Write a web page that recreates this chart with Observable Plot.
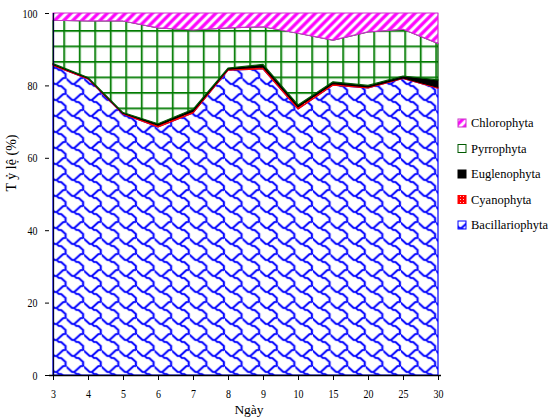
<!DOCTYPE html>
<html><head><meta charset="utf-8">
<script src="https://cdn.jsdelivr.net/npm/d3@7"></script>
<script src="https://cdn.jsdelivr.net/npm/@observablehq/plot@0.6"></script>
<style>body{margin:0;background:#fff;} svg text{font-family:"Liberation Serif",serif;}</style>
</head><body><div id="chart"></div>
<script>
const days = [3, 4, 5, 6, 7, 8, 9, 10, 15, 20, 25, 30];
const bacillariophyta = [85.5, 81.8, 72.1, 68.5, 72.4, 84.2, 84.6, 73.5, 80.1, 79.3, 81.9, 79.2];
const cyanophyta = [0.3, 0.2, 0.2, 0.5, 0.5, 0.3, 0.5, 0.6, 0.4, 0.3, 0.2, 0.3];
const euglenophyta = [0.2, 0.2, 0.2, 0.4, 0.5, 0.3, 0.7, 0.5, 0.5, 0.4, 0.5, 2.0];
const pyrrophyta = [12.0, 15.6, 25.3, 26.5, 21.9, 11.1, 10.4, 19.8, 11.5, 14.8, 12.9, 10.1];
const chlorophyta = [2.0, 2.2, 2.2, 4.1, 4.7, 4.1, 3.8, 5.6, 7.5, 5.2, 4.5, 8.4];
const yTicks = [0, 20, 40, 60, 80, 100];
const seriesNames = ["Bacillariophyta", "Cyanophyta", "Euglenophyta", "Pyrrophyta", "Chlorophyta"];
const seriesValues = [bacillariophyta, cyanophyta, euglenophyta, pyrrophyta, chlorophyta];
const legendOrder = ["Chlorophyta", "Pyrrophyta", "Euglenophyta", "Cyanophyta", "Bacillariophyta"];

const fills = {
  Bacillariophyta: "url(#pBac)", Cyanophyta: "url(#pCya)", Euglenophyta: "#000000",
  Pyrrophyta: "url(#pPyr)", Chlorophyta: "url(#pChl)"
};
const strokes = {
  Bacillariophyta: "#0000ff", Cyanophyta: "#ff0000", Euglenophyta: "#000000",
  Pyrrophyta: "#005a00", Chlorophyta: "#cc33cc"
};

// stacked table
const stacked = {};
const base = days.map(() => 0);
seriesNames.forEach((name, k) => {
  stacked[name] = days.map((d, i) => {
    const lo = base[i];
    const hi = lo + seriesValues[k][i];
    base[i] = hi;
    return {day: d, lo, hi};
  });
});

const font = "\"Liberation Serif\", serif";

const marks = seriesNames.map(name =>
  Plot.areaY(stacked[name], {x: "day", y1: "lo", y2: "hi", fill: fills[name], stroke: strokes[name], strokeWidth: 1.2})
);

const plot = Plot.plot({
  width: 549, height: 417,
  marginLeft: 49, marginRight: 108, marginTop: 13, marginBottom: 42,
  style: {fontFamily: font, fontSize: "12px", color: "#000", background: "#fff"},
  x: {type: "point", domain: days, padding: 0},
  y: {domain: [0, 100]},
  marks: [
    ...marks,
    Plot.ruleX([days[0]], {stroke: "#000033", strokeWidth: 1.3}),
    Plot.ruleY([0], {stroke: "#000", strokeWidth: 1.3}),
    Plot.axisY({ticks: yTicks, tickSize: 4, tickPadding: 8, label: null, fontSize: 12.5}),
    Plot.axisX({tickSize: 5, tickPadding: 9, label: null, fontSize: 12.5})
  ]
});

const svg = d3.select(plot);
// condensed look of the tick labels
svg.selectAll("g[aria-label$='tick label'] text").each(function() {
  const t = this.getAttribute("transform") || "";
  this.setAttribute("transform", t + " scale(0.8,1)");
});

const shingle = "M0.5,0.5 L1.5,0.5 L4.5,3.5 L5.5,3.5 L7.5,1.5 L8.5,0.5 M4.5,3.5 L3.5,4.5 L2.5,4.5 L0.5,6.5 L0.5,8.5 M8.5,6.5 L8.5,8.5 M-0.5,-0.5 L0.5,0.5";
svg.insert("defs", ":first-child").html(`
  <pattern id="pBac" patternUnits="userSpaceOnUse" width="8" height="8" patternTransform="translate(49,13) scale(-2.2,2.0)">
    <rect width="8" height="8" fill="#fff"/>
    <path d="${shingle}" fill="none" stroke="#a0a0ff" stroke-width="1.3" stroke-linejoin="round" stroke-linecap="round"/>
    <path d="${shingle}" fill="none" stroke="#0000ff" stroke-width="0.75" stroke-linejoin="round" stroke-linecap="round"/>
  </pattern>
  <pattern id="pPyr" patternUnits="userSpaceOnUse" width="15.5" height="15.5" x="1.3" y="14.5">
    <rect width="15.5" height="15.5" fill="#fff"/>
    <path d="M0.5,0V15.5M0,0.5H15.5" stroke="#80bf80" stroke-width="3.4" fill="none"/>
    <path d="M0.5,0V15.5M0,0.5H15.5" stroke="#007a00" stroke-width="1.9" fill="none"/>
  </pattern>
  <pattern id="pChl" patternUnits="userSpaceOnUse" width="6.4" height="6.4" patternTransform="rotate(45)">
    <rect width="6.4" height="6.4" fill="#fff"/>
    <rect x="0" width="4" height="6.4" fill="#f6a0f6"/>
    <rect x="0.6" width="2.8" height="6.4" fill="#ff00ff"/>
  </pattern>
  <pattern id="pCya" patternUnits="userSpaceOnUse" width="3" height="3">
    <rect width="3" height="3" fill="#ff0000"/>
    <rect x="1" y="1" width="1" height="1" fill="#ffc0c0"/>
  </pattern>
`);

// axis labels
svg.append("text").attr("transform", "translate(16,163) rotate(-90)")
  .attr("text-anchor", "middle").style("font-family", font).attr("font-size", 14)
  .text("T ỷ lệ (%)");
svg.append("text").attr("x", 249).attr("y", 414)
  .attr("text-anchor", "middle").style("font-family", font).attr("font-size", 13.5)
  .text("Ngày");

// legend
const lg = svg.append("g");
legendOrder.forEach((name, i) => {
  const y = 123 + i * 25.5;
  lg.append("rect").attr("x", 458).attr("y", y - 4).attr("width", 8).attr("height", 8)
    .attr("fill", fills[name]).attr("stroke", strokes[name]).attr("stroke-width", 1);
  lg.append("text").attr("x", 471).attr("y", y).attr("dy", "0.35em")
    .attr("text-anchor", "start").style("font-family", font).attr("font-size", 12.5).text(name);
});

document.getElementById("chart").appendChild(plot);
</script>
</body></html>
